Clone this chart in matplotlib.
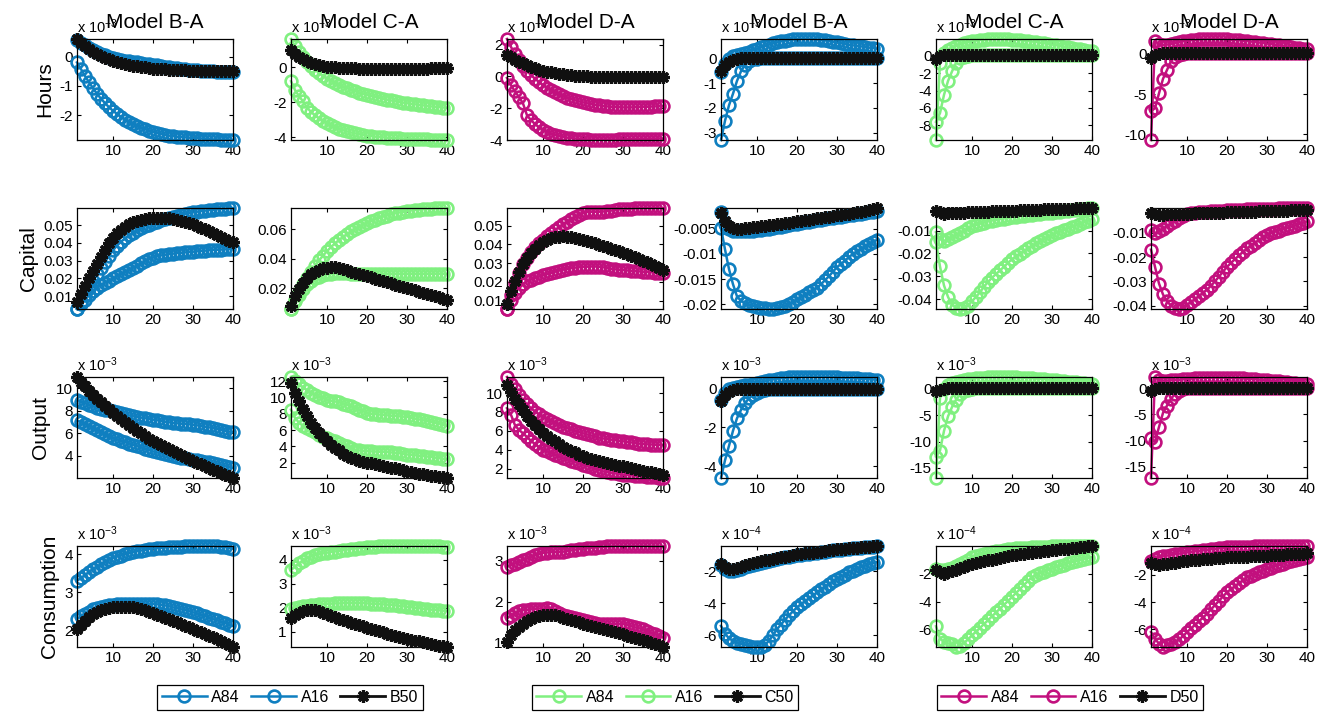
import matplotlib
matplotlib.use("Agg")
import matplotlib.pyplot as plt
import numpy as np

plt.rcParams['font.family'] = ['Liberation Sans', 'DejaVu Sans']
plt.rcParams['mathtext.default'] = 'regular'

steps = np.arange(1, 41)
row_names = ['Hours', 'Capital', 'Output', 'Consumption']
col_titles = ['Model B-A', 'Model C-A', 'Model D-A', 'Model B-A', 'Model C-A', 'Model D-A']
series_names = [['A84', 'A16', 'B50'], ['A84', 'A16', 'C50'], ['A84', 'A16', 'D50']]

# ---------------- Hours (x 10^-3) ----------------
hours_1_a84 = [0.55, 0.46, 0.38, 0.30, 0.23, 0.16, 0.10, 0.05, 0.00, -0.05,
               -0.09, -0.12, -0.14, -0.16, -0.18, -0.20, -0.22, -0.24, -0.26, -0.28,
               -0.30, -0.32, -0.34, -0.36, -0.38, -0.40, -0.42, -0.44, -0.45, -0.46,
               -0.47, -0.48, -0.49, -0.50, -0.51, -0.52, -0.52, -0.53, -0.53, -0.54]
hours_1_a16 = [-0.20, -0.43, -0.66, -0.88, -1.08, -1.27, -1.44, -1.59, -1.73, -1.85,
               -1.96, -2.06, -2.15, -2.23, -2.30, -2.37, -2.43, -2.48, -2.53, -2.57,
               -2.61, -2.64, -2.67, -2.70, -2.72, -2.74, -2.75, -2.76, -2.77, -2.78,
               -2.79, -2.80, -2.81, -2.82, -2.83, -2.83, -2.84, -2.84, -2.85, -2.85]
hours_1_b50 = [0.60, 0.47, 0.36, 0.26, 0.17, 0.09, 0.02, -0.04, -0.09, -0.14,
               -0.18, -0.22, -0.25, -0.28, -0.31, -0.33, -0.35, -0.37, -0.39, -0.41,
               -0.42, -0.43, -0.44, -0.45, -0.46, -0.46, -0.47, -0.47, -0.48, -0.48,
               -0.48, -0.49, -0.49, -0.49, -0.49, -0.49, -0.49, -0.48, -0.48, -0.48]

hours_2_a84 = [1.60, 1.20, 0.85, 0.55, 0.28, 0.05, -0.15, -0.33, -0.50, -0.65,
               -0.78, -0.90, -1.01, -1.11, -1.20, -1.29, -1.37, -1.45, -1.52, -1.58,
               -1.64, -1.70, -1.75, -1.80, -1.85, -1.90, -1.94, -1.98, -2.02, -2.06,
               -2.09, -2.12, -2.15, -2.18, -2.21, -2.24, -2.26, -2.28, -2.30, -2.32]
hours_2_a16 = [-0.80, -1.30, -1.65, -1.95, -2.30, -2.55, -2.75, -2.92, -3.07, -3.20,
               -3.32, -3.42, -3.51, -3.59, -3.66, -3.72, -3.77, -3.82, -3.86, -3.90,
               -3.93, -3.96, -3.98, -4.00, -4.02, -4.04, -4.05, -4.06, -4.07, -4.08,
               -4.09, -4.10, -4.11, -4.12, -4.12, -4.13, -4.13, -4.14, -4.14, -4.15]
hours_2_c50 = [0.95, 0.75, 0.58, 0.45, 0.34, 0.25, 0.18, 0.12, 0.07, 0.03,
               0.00, -0.02, -0.04, -0.05, -0.06, -0.07, -0.07, -0.08, -0.08, -0.08,
               -0.09, -0.09, -0.09, -0.09, -0.09, -0.09, -0.09, -0.09, -0.08, -0.08,
               -0.08, -0.08, -0.08, -0.08, -0.08, -0.07, -0.07, -0.07, -0.07, -0.07]

hours_3_a84 = [2.35, 1.85, 1.40, 1.00, 0.65, 0.35, 0.08, -0.15, -0.35, -0.55,
               -0.72, -0.87, -1.00, -1.12, -1.23, -1.33, -1.42, -1.50, -1.57, -1.63,
               -1.69, -1.74, -1.78, -1.82, -1.86, -1.89, -1.91, -1.93, -1.94, -1.95,
               -1.95, -1.95, -1.94, -1.93, -1.92, -1.91, -1.90, -1.89, -1.88, -1.87]
hours_3_a16 = [-0.10, -0.55, -0.95, -1.30, -1.70, -2.45, -2.75, -3.00, -3.20, -3.37,
               -3.50, -3.60, -3.68, -3.75, -3.80, -3.85, -3.88, -3.91, -3.93, -3.95,
               -3.96, -3.97, -3.98, -3.98, -3.98, -3.98, -3.97, -3.97, -3.96, -3.96,
               -3.95, -3.95, -3.94, -3.94, -3.93, -3.93, -3.92, -3.92, -3.91, -3.91]
hours_3_d50 = [1.35, 1.20, 1.06, 0.93, 0.81, 0.70, 0.60, 0.51, 0.43, 0.36,
               0.30, 0.25, 0.20, 0.16, 0.13, 0.10, 0.07, 0.05, 0.03, 0.01,
               0.00, -0.01, -0.02, -0.03, -0.04, -0.04, -0.05, -0.05, -0.06, -0.06,
               -0.06, -0.07, -0.07, -0.07, -0.07, -0.07, -0.07, -0.07, -0.07, -0.07]

hours_4_a84 = [-0.55, -0.20, 0.00, 0.10, 0.15, 0.19, 0.23, 0.28, 0.34, 0.40,
               0.46, 0.52, 0.57, 0.62, 0.66, 0.70, 0.73, 0.76, 0.78, 0.79,
               0.80, 0.80, 0.80, 0.79, 0.78, 0.76, 0.74, 0.72, 0.69, 0.66,
               0.63, 0.60, 0.57, 0.54, 0.52, 0.50, 0.47, 0.45, 0.43, 0.41]
hours_4_a16 = [-3.30, -2.52, -1.89, -1.42, -0.90, -0.51, -0.25, -0.10, -0.03, 0.00,
               0.01, 0.01, 0.02, 0.02, 0.02, 0.02, 0.02, 0.02, 0.02, 0.02,
               0.02, 0.02, 0.02, 0.02, 0.02, 0.02, 0.02, 0.02, 0.02, 0.02,
               0.02, 0.02, 0.02, 0.02, 0.02, 0.02, 0.02, 0.02, 0.02, 0.02]
hours_4_b50 = [-0.48, -0.25, -0.12, -0.05, -0.01, 0.01, 0.02, 0.02, 0.02, 0.02,
               0.02, 0.02, 0.02, 0.02, 0.02, 0.02, 0.02, 0.02, 0.02, 0.02,
               0.02, 0.02, 0.02, 0.02, 0.02, 0.02, 0.02, 0.02, 0.02, 0.02,
               0.02, 0.02, 0.02, 0.02, 0.02, 0.02, 0.02, 0.02, 0.02, 0.02]

hours_5_a84 = [-9.70, -0.80, 0.30, 0.70, 0.95, 1.15, 1.30, 1.45, 1.57, 1.67,
               1.75, 1.82, 1.87, 1.91, 1.93, 1.94, 1.94, 1.93, 1.91, 1.88,
               1.85, 1.81, 1.76, 1.71, 1.65, 1.59, 1.52, 1.45, 1.38, 1.30,
               1.22, 1.14, 1.06, 0.98, 0.90, 0.82, 0.74, 0.66, 0.58, 0.50]
hours_5_a16 = [-7.60, -6.60, -4.50, -2.90, -1.80, -0.80, -0.30, -0.10, 0.00, 0.04,
               0.05, 0.05, 0.05, 0.05, 0.05, 0.05, 0.05, 0.05, 0.05, 0.05,
               0.05, 0.05, 0.05, 0.05, 0.05, 0.05, 0.05, 0.05, 0.05, 0.05,
               0.05, 0.05, 0.05, 0.05, 0.05, 0.05, 0.05, 0.05, 0.05, 0.05]
hours_5_c50 = [-0.35, -0.05, 0.05, 0.08, 0.09, 0.10, 0.10, 0.10, 0.10, 0.10,
               0.10, 0.10, 0.10, 0.10, 0.10, 0.10, 0.10, 0.10, 0.10, 0.10,
               0.10, 0.10, 0.10, 0.10, 0.10, 0.10, 0.10, 0.10, 0.10, 0.10,
               0.10, 0.10, 0.10, 0.10, 0.10, 0.10, 0.10, 0.10, 0.10, 0.10]

hours_6_a84 = [-10.70, 1.58, 1.20, 1.10, 1.15, 1.25, 1.35, 1.45, 1.55, 1.63,
               1.70, 1.75, 1.79, 1.82, 1.84, 1.85, 1.85, 1.84, 1.82, 1.80,
               1.77, 1.73, 1.69, 1.64, 1.59, 1.53, 1.47, 1.41, 1.35, 1.28,
               1.21, 1.14, 1.07, 1.00, 0.93, 0.86, 0.79, 0.72, 0.65, 0.58]
hours_6_a16 = [-7.10, -6.75, -4.90, -3.10, -2.00, -0.90, -0.40, -0.10, 0.00, 0.05,
               0.06, 0.06, 0.06, 0.06, 0.06, 0.06, 0.06, 0.06, 0.06, 0.06,
               0.06, 0.06, 0.06, 0.06, 0.06, 0.06, 0.06, 0.06, 0.06, 0.06,
               0.06, 0.06, 0.06, 0.06, 0.06, 0.06, 0.06, 0.06, 0.06, 0.06]
hours_6_d50 = [-0.50, -0.20, 0.00, 0.05, 0.06, 0.06, 0.06, 0.06, 0.06, 0.06,
               0.06, 0.06, 0.06, 0.06, 0.06, 0.06, 0.06, 0.06, 0.06, 0.06,
               0.06, 0.06, 0.06, 0.06, 0.06, 0.06, 0.06, 0.06, 0.06, 0.06,
               0.06, 0.06, 0.06, 0.06, 0.06, 0.06, 0.06, 0.06, 0.06, 0.06]

# ---------------- Capital (values x 10^-3, shown in plain units) ----------------
capital_1_a84 = [2.8, 6.5, 10.5, 14.5, 18.5, 22.5, 26.0, 29.5, 32.8, 35.8,
                 38.5, 40.6, 42.5, 44.2, 45.7, 47.0, 48.2, 49.3, 50.3, 51.2,
                 52.0, 52.8, 53.5, 54.2, 54.8, 55.3, 55.8, 56.3, 56.7, 57.1,
                 57.5, 57.8, 58.1, 58.4, 58.6, 58.8, 59.0, 59.2, 59.4, 59.6]
capital_1_a16 = [2.8, 5.5, 8.0, 10.5, 13.0, 14.8, 16.3, 17.6, 18.8, 20.0,
                 21.2, 22.4, 23.6, 24.8, 26.0, 27.2, 28.4, 29.6, 30.7, 31.7,
                 32.4, 32.9, 33.3, 33.6, 33.9, 34.2, 34.4, 34.6, 34.8, 35.0,
                 35.2, 35.4, 35.6, 35.8, 36.0, 36.1, 36.2, 36.3, 36.4, 36.5]
capital_1_b50 = [6.6, 11.0, 15.5, 20.0, 24.0, 28.0, 32.0, 36.0, 40.0, 43.0,
                 45.5, 47.5, 49.0, 50.5, 51.5, 52.3, 52.9, 53.4, 53.7, 53.9,
                 54.0, 54.0, 53.9, 53.7, 53.4, 53.0, 52.5, 51.9, 51.2, 50.4,
                 49.5, 48.6, 47.6, 46.6, 45.6, 44.6, 43.5, 42.4, 41.3, 40.2]

capital_2_a84 = [5.8, 12.0, 17.5, 22.5, 27.0, 31.0, 35.0, 38.7, 42.0, 45.0,
                 47.8, 50.3, 52.6, 54.7, 56.6, 58.4, 60.0, 61.5, 62.9, 64.2,
                 65.4, 66.5, 67.5, 68.4, 69.2, 69.9, 70.6, 71.2, 71.7, 72.2,
                 72.6, 72.9, 73.2, 73.4, 73.6, 73.8, 74.0, 74.1, 74.2, 74.3]
capital_2_a16 = [5.8, 11.0, 15.5, 19.5, 22.5, 24.8, 26.5, 27.7, 28.6, 29.2,
                 29.6, 29.9, 30.0, 30.0, 29.9, 29.8, 29.7, 29.6, 29.5, 29.5,
                 29.5, 29.5, 29.5, 29.5, 29.5, 29.5, 29.5, 29.5, 29.5, 29.5,
                 29.5, 29.5, 29.5, 29.5, 29.5, 29.6, 29.6, 29.6, 29.6, 29.6]
capital_2_c50 = [8.0, 14.5, 19.5, 23.5, 26.7, 29.2, 31.1, 32.5, 33.4, 33.9,
                 34.1, 34.0, 33.5, 32.8, 32.0, 31.2, 30.4, 29.6, 28.8, 28.0,
                 27.2, 26.4, 25.6, 24.8, 24.0, 23.2, 22.4, 21.6, 20.8, 20.0,
                 19.2, 18.4, 17.6, 16.8, 16.0, 15.2, 14.4, 13.6, 12.8, 12.0]

capital_3_a84 = [5.5, 13.0, 19.5, 25.0, 29.5, 33.0, 36.0, 38.5, 40.6, 42.5,
                 44.3, 46.0, 47.7, 49.3, 50.8, 52.2, 53.5, 54.7, 55.8, 56.8,
                 57.3, 57.5, 57.5, 57.5, 57.6, 57.8, 58.1, 58.4, 58.7, 58.9,
                 59.1, 59.2, 59.3, 59.4, 59.4, 59.5, 59.5, 59.5, 59.5, 59.5]
capital_3_a16 = [5.5, 10.5, 14.0, 16.8, 19.0, 20.3, 21.2, 22.0, 22.8, 23.5,
                 24.2, 24.8, 25.4, 26.0, 26.5, 26.9, 27.3, 27.6, 27.8, 28.0,
                 28.1, 28.2, 28.2, 28.1, 27.8, 27.4, 27.0, 26.7, 26.5, 26.3,
                 26.1, 25.9, 25.7, 25.6, 25.4, 25.3, 25.1, 25.0, 24.9, 24.7]
capital_3_d50 = [8.2, 15.0, 20.5, 25.5, 29.5, 32.8, 35.6, 37.8, 39.7, 41.2,
                 42.4, 43.3, 43.9, 44.2, 44.3, 44.2, 43.9, 43.5, 43.0, 42.5,
                 41.9, 41.3, 40.6, 39.9, 39.2, 38.5, 37.8, 37.1, 36.4, 35.6,
                 34.8, 34.0, 33.2, 32.3, 31.4, 30.5, 29.6, 28.6, 27.6, 26.5]

capital_4_a84 = [-1.6, -4.0, -5.0, -5.4, -5.5, -5.5, -5.5, -5.4, -5.4, -5.3,
                 -5.2, -5.1, -5.0, -4.9, -4.7, -4.6, -4.4, -4.3, -4.1, -4.0,
                 -3.9, -3.7, -3.6, -3.5, -3.3, -3.2, -3.1, -2.9, -2.8, -2.7,
                 -2.6, -2.5, -2.3, -2.2, -2.1, -2.0, -1.8, -1.7, -1.6, -1.5]
capital_4_a16 = [-4.9, -9.1, -13.0, -16.0, -18.4, -19.3, -19.8, -20.1, -20.3, -20.5,
                 -20.7, -20.8, -20.9, -20.9, -20.7, -20.5, -20.3, -20.0, -19.5, -19.0,
                 -18.6, -18.1, -17.6, -17.2, -16.7, -16.0, -15.2, -14.4, -13.5, -12.6,
                 -12.0, -11.3, -10.6, -10.0, -9.5, -9.0, -8.5, -8.0, -7.6, -7.2]
capital_4_b50 = [-1.8, -3.5, -4.5, -4.9, -5.0, -5.0, -4.9, -4.8, -4.7, -4.6,
                 -4.5, -4.4, -4.3, -4.2, -4.1, -4.0, -3.9, -3.8, -3.7, -3.5,
                 -3.4, -3.3, -3.2, -3.1, -2.9, -2.8, -2.7, -2.6, -2.5, -2.3,
                 -2.2, -2.1, -2.0, -1.8, -1.7, -1.6, -1.4, -1.3, -1.1, -0.9]

capital_5_a84 = [-10.7, -13.7, -14.4, -13.8, -13.0, -12.0, -11.0, -10.0, -9.0, -8.1,
                 -7.5, -7.0, -6.5, -6.0, -5.6, -5.3, -5.0, -4.7, -4.4, -4.1,
                 -3.9, -3.7, -3.5, -3.3, -3.1, -2.9, -2.7, -2.5, -2.3, -2.1,
                 -1.9, -1.7, -1.5, -1.3, -1.1, -0.9, -0.7, -0.5, -0.3, -0.1]
capital_5_a16 = [-15.1, -25.7, -34.0, -39.0, -42.4, -43.8, -44.3, -44.0, -42.8, -40.9,
                 -39.0, -37.0, -34.5, -32.5, -30.6, -29.0, -27.4, -25.8, -24.1, -22.5,
                 -21.3, -20.1, -18.9, -17.7, -16.6, -15.6, -14.6, -13.7, -12.8, -11.9,
                 -11.2, -10.5, -9.8, -9.1, -8.5, -7.8, -7.1, -6.4, -5.7, -4.9]
capital_5_c50 = [-1.6, -2.0, -2.6, -2.5, -2.4, -2.3, -2.2, -2.1, -2.0, -1.9,
                 -1.9, -1.8, -1.7, -1.7, -1.6, -1.5, -1.5, -1.4, -1.3, -1.2,
                 -1.2, -1.1, -1.0, -1.0, -0.9, -0.8, -0.8, -0.7, -0.6, -0.6,
                 -0.5, -0.5, -0.4, -0.4, -0.4, -0.3, -0.3, -0.3, -0.3, -0.3]

capital_6_a84 = [-8.9, -10.0, -9.3, -8.2, -7.2, -6.0, -5.0, -4.0, -3.0, -2.2,
                 -1.8, -1.6, -1.4, -1.3, -1.2, -1.1, -1.0, -0.9, -0.8, -0.7,
                 -0.6, -0.5, -0.5, -0.4, -0.3, -0.3, -0.2, -0.2, -0.1, -0.1,
                 0.0, 0.0, 0.1, 0.1, 0.1, 0.2, 0.2, 0.2, 0.3, 0.3]
capital_6_a16 = [-16.9, -24.0, -30.9, -35.4, -38.2, -40.0, -41.0, -41.4, -40.8, -39.6,
                 -38.5, -37.3, -36.0, -34.7, -33.4, -31.8, -30.0, -28.0, -26.0, -24.0,
                 -22.4, -20.8, -19.3, -17.8, -16.4, -15.2, -14.0, -12.9, -11.8, -10.8,
                 -10.1, -9.5, -9.0, -8.5, -8.0, -7.5, -7.0, -6.4, -5.8, -5.2]
capital_6_d50 = [-1.7, -2.1, -2.4, -2.4, -2.3, -2.3, -2.2, -2.2, -2.1, -2.0,
                 -2.0, -1.9, -1.9, -1.8, -1.8, -1.7, -1.7, -1.6, -1.6, -1.5,
                 -1.5, -1.4, -1.4, -1.3, -1.3, -1.2, -1.2, -1.1, -1.1, -1.0,
                 -1.0, -0.9, -0.9, -0.8, -0.8, -0.7, -0.7, -0.6, -0.5, -0.4]

# ---------------- Output (x 10^-3) ----------------
output_1_a84 = [8.96, 8.80, 8.65, 8.50, 8.37, 8.27, 8.18, 8.09, 8.01, 7.93,
                7.84, 7.75, 7.67, 7.58, 7.50, 7.44, 7.38, 7.32, 7.26, 7.20,
                7.14, 7.08, 7.02, 6.96, 6.90, 6.87, 6.84, 6.81, 6.78, 6.75,
                6.69, 6.63, 6.57, 6.51, 6.45, 6.37, 6.29, 6.21, 6.14, 6.07]
output_1_a16 = [7.13, 6.98, 6.82, 6.65, 6.45, 6.27, 6.09, 5.91, 5.73, 5.56,
                5.44, 5.32, 5.20, 5.08, 4.97, 4.85, 4.73, 4.61, 4.50, 4.38,
                4.29, 4.20, 4.11, 4.02, 3.93, 3.87, 3.81, 3.75, 3.70, 3.64,
                3.58, 3.52, 3.46, 3.40, 3.34, 3.25, 3.16, 3.07, 2.98, 2.90]
output_1_b50 = [10.98, 10.55, 10.15, 9.77, 9.40, 9.05, 8.72, 8.40, 8.10, 7.80,
                7.52, 7.24, 6.97, 6.71, 6.46, 6.22, 5.98, 5.75, 5.52, 5.30,
                5.11, 4.93, 4.75, 4.57, 4.40, 4.22, 4.05, 3.88, 3.71, 3.54,
                3.38, 3.22, 3.06, 2.91, 2.76, 2.61, 2.46, 2.31, 2.16, 2.02]

output_2_a84 = [12.50, 12.00, 11.60, 11.20, 10.90, 10.60, 10.35, 10.10, 9.90, 9.70,
                9.60, 9.50, 9.40, 9.25, 9.10, 8.90, 8.70, 8.50, 8.30, 8.10,
                8.00, 7.95, 7.90, 7.85, 7.80, 7.76, 7.72, 7.68, 7.64, 7.60,
                7.50, 7.40, 7.30, 7.20, 7.10, 7.00, 6.90, 6.80, 6.65, 6.50]
output_2_a16 = [8.50, 7.50, 6.90, 6.50, 6.20, 5.95, 5.70, 5.45, 5.20, 5.00,
                4.80, 4.60, 4.40, 4.20, 4.00, 3.80, 3.60, 3.50, 3.45, 3.40,
                3.38, 3.36, 3.34, 3.32, 3.30, 3.25, 3.20, 3.15, 3.10, 3.00,
                2.95, 2.90, 2.85, 2.80, 2.75, 2.70, 2.62, 2.55, 2.47, 2.40]
output_2_c50 = [11.75, 10.50, 9.50, 8.55, 7.67, 6.90, 6.20, 5.60, 5.10, 4.60,
                4.20, 3.85, 3.50, 3.10, 2.80, 2.60, 2.40, 2.25, 2.10, 2.00,
                1.90, 1.80, 1.70, 1.60, 1.50, 1.40, 1.30, 1.20, 1.05, 0.90,
                0.80, 0.72, 0.65, 0.58, 0.50, 0.42, 0.34, 0.27, 0.20, 0.12]

output_3_a84 = [11.70, 11.00, 10.40, 9.80, 9.26, 8.80, 8.40, 8.05, 7.75, 7.50,
                7.27, 7.05, 6.85, 6.65, 6.46, 6.30, 6.15, 6.00, 5.87, 5.75,
                5.63, 5.52, 5.41, 5.30, 5.20, 5.14, 5.08, 5.02, 4.96, 4.90,
                4.84, 4.78, 4.72, 4.66, 4.60, 4.58, 4.56, 4.54, 4.52, 4.50]
output_3_a16 = [8.40, 7.70, 6.60, 6.10, 5.75, 5.35, 4.95, 4.60, 4.30, 4.00,
                3.83, 3.66, 3.50, 3.30, 3.12, 2.98, 2.84, 2.70, 2.56, 2.42,
                2.28, 2.14, 2.00, 1.86, 1.72, 1.65, 1.58, 1.51, 1.44, 1.37,
                1.34, 1.30, 1.27, 1.23, 1.20, 1.16, 1.13, 1.09, 1.06, 1.02]
output_3_d50 = [10.84, 10.10, 9.40, 8.80, 8.20, 7.60, 7.10, 6.60, 6.15, 5.75,
                5.45, 5.15, 4.88, 4.60, 4.35, 4.13, 3.92, 3.72, 3.50, 3.30,
                3.17, 3.04, 2.92, 2.80, 2.67, 2.58, 2.50, 2.42, 2.34, 2.25,
                2.15, 2.05, 1.95, 1.85, 1.75, 1.68, 1.61, 1.53, 1.45, 1.37]

output_4_a84 = [-0.57, -0.20, 0.00, 0.05, 0.10, 0.14, 0.18, 0.21, 0.25, 0.29,
                0.34, 0.39, 0.44, 0.49, 0.53, 0.56, 0.58, 0.60, 0.61, 0.62,
                0.62, 0.62, 0.62, 0.62, 0.62, 0.62, 0.62, 0.62, 0.61, 0.60,
                0.59, 0.58, 0.57, 0.56, 0.55, 0.53, 0.52, 0.50, 0.49, 0.47]
output_4_a16 = [-4.62, -3.70, -2.95, -2.17, -1.52, -1.09, -0.74, -0.48, -0.31, -0.20,
                -0.12, -0.05, 0.00, 0.02, 0.02, 0.02, 0.02, 0.02, 0.02, 0.02,
                0.02, 0.02, 0.02, 0.02, 0.02, 0.02, 0.02, 0.02, 0.02, 0.02,
                0.02, 0.02, 0.02, 0.02, 0.02, 0.02, 0.02, 0.02, 0.02, 0.02]
output_4_b50 = [-0.65, -0.30, -0.15, -0.07, -0.02, 0.01, 0.02, 0.02, 0.02, 0.02,
                0.02, 0.02, 0.02, 0.02, 0.02, 0.02, 0.02, 0.02, 0.02, 0.02,
                0.02, 0.02, 0.02, 0.02, 0.02, 0.02, 0.02, 0.02, 0.02, 0.02,
                0.02, 0.02, 0.02, 0.02, 0.02, 0.02, 0.02, 0.02, 0.02, 0.02]

output_5_a84 = [-16.90, -1.80, 0.00, 0.60, 1.00, 1.30, 1.50, 1.65, 1.78, 1.88,
                1.96, 2.03, 2.09, 2.13, 2.16, 2.18, 2.19, 2.20, 2.19, 2.17,
                2.14, 2.10, 2.06, 2.01, 1.96, 1.90, 1.84, 1.78, 1.71, 1.64,
                1.57, 1.50, 1.42, 1.34, 1.26, 1.18, 1.10, 1.01, 0.92, 0.82]
output_5_a16 = [-12.85, -11.70, -8.00, -5.25, -3.50, -2.10, -1.10, -0.50, -0.20, 0.00,
                0.08, 0.10, 0.10, 0.10, 0.10, 0.10, 0.10, 0.10, 0.10, 0.10,
                0.10, 0.10, 0.10, 0.10, 0.10, 0.10, 0.10, 0.10, 0.10, 0.10,
                0.10, 0.10, 0.10, 0.10, 0.10, 0.10, 0.10, 0.10, 0.10, 0.10]
output_5_c50 = [-0.50, -0.20, 0.00, 0.05, 0.06, 0.06, 0.06, 0.06, 0.06, 0.06,
                0.06, 0.06, 0.06, 0.06, 0.06, 0.06, 0.06, 0.06, 0.06, 0.06,
                0.06, 0.06, 0.06, 0.06, 0.06, 0.06, 0.06, 0.06, 0.06, 0.06,
                0.06, 0.06, 0.06, 0.06, 0.06, 0.06, 0.06, 0.06, 0.06, 0.06]

output_6_a84 = [-17.20, 2.20, 1.60, 1.50, 1.50, 1.55, 1.60, 1.67, 1.74, 1.81,
                1.88, 1.94, 1.99, 2.03, 2.06, 2.08, 2.09, 2.09, 2.08, 2.06,
                2.03, 2.00, 1.96, 1.92, 1.87, 1.82, 1.76, 1.70, 1.64, 1.57,
                1.50, 1.43, 1.36, 1.28, 1.20, 1.12, 1.04, 0.95, 0.86, 0.77]
output_6_a16 = [-9.60, -10.20, -7.40, -4.70, -3.30, -2.00, -1.00, -0.40, -0.10, 0.05,
                0.10, 0.10, 0.10, 0.10, 0.10, 0.10, 0.10, 0.10, 0.10, 0.10,
                0.10, 0.10, 0.10, 0.10, 0.10, 0.10, 0.10, 0.10, 0.10, 0.10,
                0.10, 0.10, 0.10, 0.10, 0.10, 0.10, 0.10, 0.10, 0.10, 0.10]
output_6_d50 = [-0.50, -0.10, 0.03, 0.05, 0.05, 0.05, 0.05, 0.05, 0.05, 0.05,
                0.05, 0.05, 0.05, 0.05, 0.05, 0.05, 0.05, 0.05, 0.05, 0.05,
                0.05, 0.05, 0.05, 0.05, 0.05, 0.05, 0.05, 0.05, 0.05, 0.05,
                0.05, 0.05, 0.05, 0.05, 0.05, 0.05, 0.05, 0.05, 0.05, 0.05]

# ---------------- Consumption (x 10^-3 left, x 10^-4 right) ----------------
consumption_1_a84 = [3.30, 3.37, 3.45, 3.53, 3.61, 3.67, 3.73, 3.79, 3.85, 3.90,
                     3.93, 3.96, 3.99, 4.02, 4.05, 4.07, 4.09, 4.11, 4.13, 4.14,
                     4.15, 4.16, 4.17, 4.18, 4.18, 4.19, 4.19, 4.20, 4.20, 4.21,
                     4.21, 4.21, 4.21, 4.21, 4.21, 4.20, 4.19, 4.18, 4.16, 4.14]
consumption_1_a16 = [2.29, 2.37, 2.43, 2.49, 2.55, 2.59, 2.62, 2.64, 2.66, 2.67,
                     2.68, 2.69, 2.70, 2.70, 2.70, 2.70, 2.70, 2.70, 2.69, 2.69,
                     2.68, 2.67, 2.65, 2.63, 2.60, 2.58, 2.55, 2.53, 2.50, 2.47,
                     2.44, 2.40, 2.37, 2.33, 2.29, 2.26, 2.22, 2.19, 2.15, 2.11]
consumption_1_b50 = [2.03, 2.15, 2.25, 2.34, 2.42, 2.48, 2.53, 2.56, 2.58, 2.60,
                     2.61, 2.62, 2.62, 2.61, 2.60, 2.58, 2.56, 2.53, 2.49, 2.45,
                     2.41, 2.37, 2.33, 2.29, 2.25, 2.21, 2.17, 2.12, 2.08, 2.03,
                     1.99, 1.95, 1.90, 1.86, 1.81, 1.76, 1.71, 1.66, 1.61, 1.56]

consumption_2_a84 = [3.57, 3.72, 3.85, 3.97, 4.07, 4.14, 4.19, 4.23, 4.27, 4.30,
                     4.33, 4.35, 4.38, 4.40, 4.43, 4.45, 4.47, 4.49, 4.51, 4.53,
                     4.54, 4.55, 4.56, 4.56, 4.57, 4.57, 4.57, 4.58, 4.58, 4.58,
                     4.58, 4.58, 4.57, 4.57, 4.57, 4.56, 4.56, 4.56, 4.55, 4.55]
consumption_2_a16 = [1.95, 1.99, 2.03, 2.06, 2.09, 2.11, 2.13, 2.14, 2.15, 2.16,
                     2.17, 2.18, 2.18, 2.19, 2.19, 2.19, 2.19, 2.19, 2.19, 2.18,
                     2.17, 2.16, 2.15, 2.14, 2.13, 2.12, 2.10, 2.08, 2.06, 2.04,
                     2.02, 2.00, 1.98, 1.96, 1.94, 1.92, 1.91, 1.89, 1.88, 1.86]
consumption_2_c50 = [1.58, 1.70, 1.80, 1.86, 1.90, 1.91, 1.90, 1.86, 1.80, 1.72,
                     1.66, 1.60, 1.54, 1.49, 1.44, 1.38, 1.33, 1.28, 1.23, 1.17,
                     1.12, 1.07, 1.02, 0.97, 0.92, 0.88, 0.84, 0.79, 0.75, 0.71,
                     0.67, 0.63, 0.59, 0.55, 0.51, 0.48, 0.45, 0.42, 0.39, 0.36]

consumption_3_a84 = [2.85, 2.89, 2.93, 2.97, 3.01, 3.05, 3.09, 3.13, 3.16, 3.19,
                     3.20, 3.21, 3.21, 3.21, 3.22, 3.24, 3.25, 3.27, 3.28, 3.29,
                     3.30, 3.31, 3.32, 3.33, 3.34, 3.35, 3.35, 3.36, 3.36, 3.36,
                     3.36, 3.36, 3.36, 3.36, 3.36, 3.36, 3.35, 3.35, 3.35, 3.35]
consumption_3_a16 = [1.59, 1.66, 1.72, 1.76, 1.79, 1.80, 1.81, 1.82, 1.83, 1.83,
                     1.84, 1.82, 1.77, 1.72, 1.67, 1.64, 1.62, 1.60, 1.57, 1.54,
                     1.52, 1.50, 1.48, 1.46, 1.46, 1.46, 1.45, 1.45, 1.45, 1.45,
                     1.43, 1.40, 1.37, 1.35, 1.32, 1.28, 1.24, 1.20, 1.16, 1.12]
consumption_3_d50 = [1.02, 1.18, 1.30, 1.39, 1.46, 1.53, 1.58, 1.62, 1.65, 1.67,
                     1.68, 1.68, 1.67, 1.65, 1.61, 1.58, 1.55, 1.52, 1.49, 1.46,
                     1.44, 1.41, 1.39, 1.36, 1.34, 1.31, 1.28, 1.26, 1.23, 1.20,
                     1.17, 1.14, 1.11, 1.09, 1.06, 1.03, 1.00, 0.97, 0.93, 0.89]

consumption_4_a84 = [-1.62, -1.85, -1.98, -1.97, -1.90, -1.82, -1.73, -1.65, -1.57, -1.50,
                     -1.44, -1.38, -1.32, -1.27, -1.21, -1.16, -1.11, -1.07, -1.02, -0.98,
                     -0.94, -0.91, -0.88, -0.85, -0.82, -0.78, -0.75, -0.71, -0.68, -0.64,
                     -0.62, -0.59, -0.57, -0.55, -0.53, -0.51, -0.49, -0.47, -0.44, -0.42]
consumption_4_a16 = [-5.41, -5.90, -6.20, -6.35, -6.46, -6.54, -6.60, -6.67, -6.71, -6.74,
                     -6.74, -6.60, -6.35, -6.00, -5.62, -5.33, -5.03, -4.75, -4.50, -4.25,
                     -4.05, -3.86, -3.68, -3.50, -3.31, -3.13, -2.95, -2.78, -2.62, -2.46,
                     -2.32, -2.19, -2.06, -1.94, -1.83, -1.74, -1.64, -1.56, -1.48, -1.41]
consumption_4_b50 = [-1.52, -1.70, -1.83, -1.82, -1.77, -1.70, -1.62, -1.55, -1.48, -1.41,
                     -1.36, -1.30, -1.25, -1.20, -1.14, -1.10, -1.06, -1.02, -0.97, -0.93,
                     -0.90, -0.87, -0.84, -0.81, -0.78, -0.75, -0.71, -0.68, -0.64, -0.61,
                     -0.59, -0.57, -0.55, -0.53, -0.51, -0.49, -0.47, -0.45, -0.42, -0.40]

consumption_5_a84 = [-1.64, -1.70, -1.72, -1.66, -1.60, -1.45, -1.30, -1.15, -1.00, -0.81,
                     -0.74, -0.66, -0.59, -0.52, -0.45, -0.40, -0.35, -0.31, -0.26, -0.21,
                     -0.19, -0.17, -0.16, -0.14, -0.12, -0.11, -0.09, -0.08, -0.06, -0.05,
                     -0.05, -0.04, -0.04, -0.03, -0.03, -0.03, -0.02, -0.02, -0.02, -0.02]
consumption_5_a16 = [-5.76, -6.64, -6.88, -6.98, -7.05, -7.24, -7.15, -6.95, -6.70, -6.40,
                     -6.15, -5.87, -5.60, -5.33, -5.05, -4.77, -4.50, -4.22, -3.95, -3.67,
                     -3.38, -3.10, -2.80, -2.52, -2.24, -2.10, -1.98, -1.86, -1.75, -1.64,
                     -1.55, -1.45, -1.36, -1.26, -1.17, -1.10, -1.03, -0.95, -0.88, -0.81]
consumption_5_c50 = [-1.76, -1.90, -2.00, -1.90, -1.81, -1.70, -1.60, -1.50, -1.40, -1.29,
                     -1.23, -1.17, -1.11, -1.05, -0.99, -0.93, -0.87, -0.81, -0.75, -0.69,
                     -0.65, -0.62, -0.58, -0.55, -0.51, -0.47, -0.44, -0.40, -0.37, -0.33,
                     -0.30, -0.27, -0.24, -0.21, -0.18, -0.14, -0.11, -0.08, -0.05, -0.02]

consumption_6_a84 = [-1.03, -0.88, -0.74, -0.67, -0.61, -0.56, -0.51, -0.47, -0.42, -0.38,
                     -0.34, -0.30, -0.27, -0.23, -0.19, -0.15, -0.12, -0.08, -0.05, -0.01,
                     0.00, 0.01, 0.02, 0.03, 0.04, 0.05, 0.06, 0.07, 0.08, 0.09,
                     0.09, 0.09, 0.09, 0.09, 0.08, 0.08, 0.07, 0.07, 0.06, 0.06]
consumption_6_a16 = [-6.19, -6.68, -7.04, -7.28, -7.16, -7.04, -6.92, -6.73, -6.49, -6.19,
                     -5.93, -5.66, -5.40, -5.13, -4.86, -4.54, -4.22, -3.91, -3.59, -3.28,
                     -3.06, -2.84, -2.62, -2.41, -2.19, -2.07, -1.95, -1.83, -1.71, -1.59,
                     -1.49, -1.39, -1.30, -1.20, -1.10, -1.03, -0.96, -0.88, -0.81, -0.74]
consumption_6_d50 = [-1.18, -1.24, -1.27, -1.25, -1.21, -1.17, -1.12, -1.08, -1.03, -0.98,
                     -0.96, -0.93, -0.91, -0.88, -0.86, -0.84, -0.81, -0.79, -0.76, -0.74,
                     -0.73, -0.72, -0.70, -0.69, -0.68, -0.67, -0.66, -0.64, -0.63, -0.62,
                     -0.60, -0.58, -0.56, -0.54, -0.53, -0.51, -0.49, -0.48, -0.46, -0.45]

# y tick labels per panel (values as displayed)
yticks = {
    'Hours': [[0, -1, -2], [0, -2, -4], [2, 0, -2, -4], [0, -1, -2, -3], [0, -2, -4, -6, -8], [0, -5, -10]],
    'Capital': [[0.01, 0.02, 0.03, 0.04, 0.05], [0.02, 0.04, 0.06], [0.01, 0.02, 0.03, 0.04, 0.05],
                [-0.005, -0.01, -0.015, -0.02], [-0.01, -0.02, -0.03, -0.04], [-0.01, -0.02, -0.03, -0.04]],
    'Output': [[4, 6, 8, 10], [2, 4, 6, 8, 10, 12], [2, 4, 6, 8, 10], [-4, -2, 0], [-15, -10, -5, 0], [-15, -10, -5, 0]],
    'Consumption': [[2, 3, 4], [1, 2, 3, 4], [1, 2, 3], [-6, -4, -2], [-6, -4, -2], [-6, -4, -2]],
}
exponents = {
    'Hours': ['-3'] * 6,
    'Capital': [None] * 6,
    'Output': ['-3'] * 6,
    'Consumption': ['-3', '-3', '-3', '-4', '-4', '-4'],
}

colors = ['#0f7fc0', '#80f080', '#c2107e']
black = '#101010'

g = globals()
fig = plt.figure(figsize=(13.19, 7.14), dpi=100)
W, H = 1319.0, 714.0
col_left = [77, 291, 507, 721, 936, 1151]
row_top = [39, 208, 377, 546]
ax_w, ax_h = 156, 101

legend_handles = [None, None, None]
for r, row in enumerate(row_names):
    key = row.lower()
    for c in range(6):
        ax = fig.add_axes([col_left[c] / W, 1 - (row_top[r] + ax_h) / H, ax_w / W, ax_h / H])
        grp = c % 3
        names = series_names[grp]
        scale = 1e-3 if row == 'Capital' else 1.0
        lines = []
        for s, nm in enumerate(names):
            vals = np.array(g['%s_%d_%s' % (key, c + 1, nm.lower())]) * scale
            if s < 2:
                ln, = ax.plot(steps, vals, '-o', color=colors[grp], lw=1.8, ms=8.5,
                              mfc='none', mew=1.9, clip_on=False, label=nm)
            else:
                ln, = ax.plot(steps, vals, '-', marker=(8, 2, 0), color=black, lw=2.0,
                              ms=9, mew=2.3, clip_on=False, label=nm, zorder=3)
            lines.append(ln)
        if r == 0 and c < 3:
            legend_handles[c] = lines
        ax.margins(x=0, y=0)
        ax.set_xlim(1, 40)
        ax.set_xticks([10, 20, 30, 40])
        ax.set_xticklabels(['10', '20', '30', '40'])
        ticks = yticks[row][c]
        ax.set_yticks(ticks)
        ax.set_yticklabels(['%g' % t for t in ticks])
        ax.tick_params(direction='in', top=True, right=True, length=3, width=0.8,
                       labelsize=11, pad=3)
        for sp in ax.spines.values():
            sp.set_linewidth(0.9)
        exp = exponents[row][c]
        if exp is not None:
            ax.text(0.0, 1.03, 'x 10$^{%s}$' % exp, transform=ax.transAxes,
                    fontsize=10.5, ha='left', va='bottom')
        if r == 0:
            ax.set_title(col_titles[c], fontsize=15, pad=8)
        if c == 0:
            ax.set_ylabel(row, fontsize=15, labelpad=4)

legend_x = [290, 665, 1070]
for i in range(3):
    leg = fig.legend(handles=legend_handles[i], loc='center',
                     bbox_to_anchor=(legend_x[i] / W, 1 - 697.5 / H), ncol=3,
                     fontsize=11.5, handlelength=2.8, handletextpad=0.3,
                     columnspacing=0.7, borderpad=0.3, fancybox=False,
                     edgecolor='black', framealpha=1)
    leg.get_frame().set_linewidth(0.9)

fig.savefig('out.png', dpi=100)
